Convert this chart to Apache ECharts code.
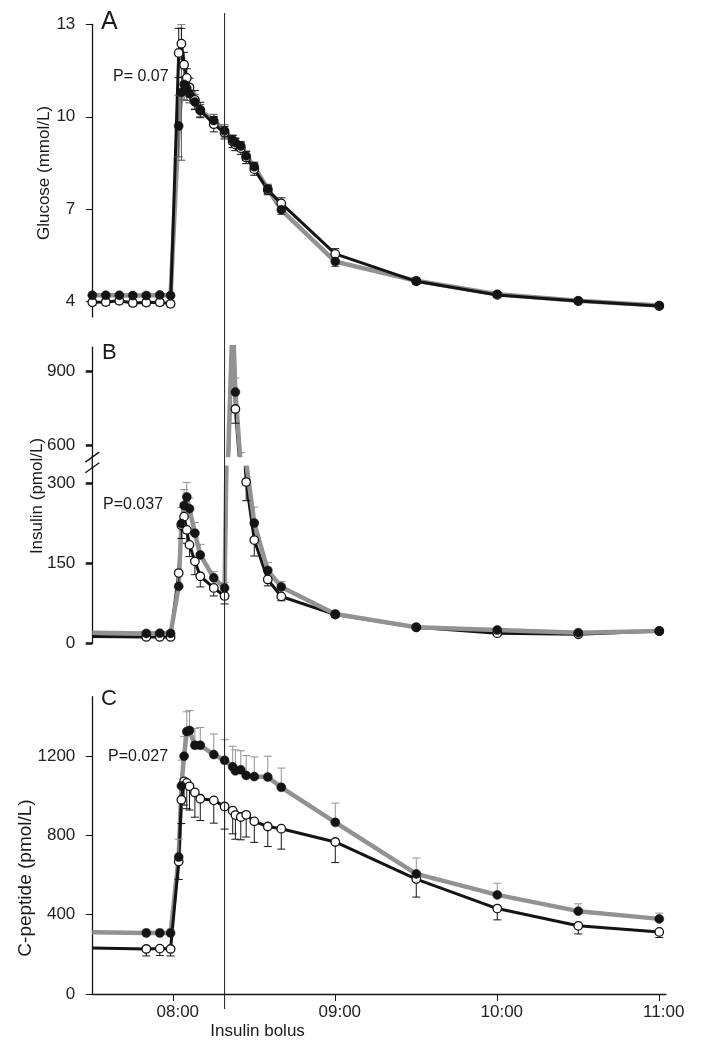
<!DOCTYPE html>
<html><head><meta charset="utf-8">
<script src="https://cdn.jsdelivr.net/npm/echarts@6.0.0/dist/echarts.min.js"></script>
<style>html,body{margin:0;padding:0;background:#fff}#c{width:705px;height:1043px}</style>
</head><body><div id="c"></div>
<script>
// ---------- DATA ----------
// time in minutes relative to 08:00
const TIME_A = [-30,-25,-20,-15,-10,-5,-1,2,3,4,5,6,8,10,15,19,22,23,25,27,30,35,40,60,90,120,150,180];
const GLU_FILLED    = [4.21,4.21,4.21,4.20,4.20,4.22,4.20,9.70,10.79,11.05,10.93,10.75,10.48,10.20,9.88,9.54,9.25,9.16,9.05,8.73,8.38,7.66,6.98,5.30,4.68,4.24,4.03,3.88];
const GLU_FILLED_SE = [0.05,0.05,0.05,0.05,0.05,0.05,0.05,1.00,2.20,0.50,0.40,0.30,0.25,0.20,0.20,0.20,0.15,0.15,0.15,0.15,0.15,0.15,0.15,0.16,0.10,0.08,0.06,0.05];
const GLU_OPEN      = [3.98,3.99,4.03,3.96,3.97,3.98,3.93,12.07,12.37,11.69,11.26,10.95,10.55,10.22,9.76,9.48,9.20,9.10,8.98,8.68,8.30,7.62,7.19,5.55,4.66,4.22,4.02,3.86];
const GLU_OPEN_SE   = [0.10,0.10,0.10,0.10,0.10,0.10,0.10,0.80,0.50,0.40,0.30,0.30,0.30,0.25,0.25,0.20,0.20,0.20,0.20,0.20,0.20,0.15,0.18,0.17,0.08,0.08,0.06,0.05];

const TIME_BC = [-30,-10,-5,-1,2,3,4,5,6,8,10,15,19,22,23,25,27,30,35,40,60,90,120,150,180];
const UNSAMPLED_TIMES = [-30]; // line starts here, no measurement marker
const INS_FILLED    = [20,18.6,19,18.6,107,225,259,275,253,207,166,123,104,1130,817,520,340,226,137,106,55,30,25,20,23];
const INS_FILLED_SE = [0,3,3,3,30,30,30,27,20,20,20,12,10,0,57,50,40,30,15,10,5,3,3,3,3];
const INS_OPEN      = [13,12,12,12,132,222,238,213,185,154,126,104,89,1060,748,470,303,194,120,88,54,30,19,17,23];
const INS_OPEN_SE   = [0,3,3,3,25,25,25,25,22,25,20,15,15,0,58,50,35,30,12,8,5,3,3,3,3];

const CPEP_FILLED    = [311,308,308,308,691,1050,1200,1324,1330,1255,1255,1208,1179,1146,1126,1131,1103,1097,1095,1043,866,606,500,418,379];
const CPEP_FILLED_SE = [0,19,19,19,90,130,100,100,100,85,90,104,104,104,106,96,100,99,105,97,97,80,59,37,29];
const CPEP_OPEN      = [232,227,229,227,668,980,1073,1065,1048,1017,985,977,946,925,903,893,904,871,845,834,767,580,431,344,313];
const CPEP_OPEN_SE   = [0,35,35,35,90,120,120,130,120,125,110,115,114,117,122,115,112,106,101,103,104,91,57,41,28];

const X_TICKS = [0,60,120,180];
const X_TICK_LABELS = ['08:00','09:00','10:00','11:00'];
const BOLUS_TIME = 19;
const BOLUS_LABEL = 'Insulin bolus';
const Y_TICKS_A = [4,7,10,13];
const Y_TICKS_B_HIGH = [600,900];
const Y_TICKS_B_LOW = [0,150,300];
const Y_TICKS_C = [0,400,800,1200];
const P_TEXTS = ['P= 0.07','P=0.037','P=0.027'];
const PANEL_LETTERS = ['A','B','C'];
const Y_TITLES = ['Glucose (mmol/L)','Insulin (pmol/L)','C-peptide (pmol/L)'];

// ---------- STYLE ----------
const FONT = 'Liberation Sans, Arial, sans-serif';
const GRAY = '#929292', BLACK = '#141414';
const X_MIN = -30, X_MAX = 182.5;

const chart = echarts.init(document.getElementById('c'), null, {renderer:'canvas'});

const grids = [
  {left:92.3, right:39, top:24.3, height:292.8},   // A
  {left:92.3, right:39, top:347.2, height:107.9},  // B upper
  {left:92.3, right:39, top:467.7, height:175.6},  // B lower
  {left:92.3, right:39, top:696.7, height:297.3}   // C
];

function xAxis(g, show) {
  const ax = {type:'value', gridIndex:g, min:X_MIN, max:X_MAX, splitLine:{show:false}};
  if (!show) { ax.show = false; return ax; }
  return Object.assign(ax, {
    axisLine:{show:true, onZero:false, lineStyle:{color:BLACK, width:1.3}},
    axisTick:{show:true, length:7, customValues:X_TICKS, lineStyle:{color:BLACK, width:1}},
    axisLabel:{customValues:X_TICKS, margin:10, padding:[0,0,0,9], fontSize:17, color:'#222', fontFamily:FONT,
      formatter: v => X_TICK_LABELS[X_TICKS.indexOf(v)] || ''}
  });
}
function yAxis(g, min, max, ticks, tickW) {
  return {type:'value', gridIndex:g, min, max, splitLine:{show:false},
    axisLine:{show:true, onZero:false, lineStyle:{color:BLACK, width:1.3}},
    axisTick:{show:true, length:6.5, customValues:ticks, lineStyle:{color:BLACK, width:tickW}},
    axisLabel:{customValues:ticks, margin:17, fontSize:17, color:'#222', fontFamily:FONT, formatter: v => String(v)}};
}

function errRender(dir, color) {
  return function(params, api) {
    const t = api.value(0), v = api.value(1), se = api.value(2);
    if (!(se > 0)) return;
    const cs = params.coordSys;
    const p0 = api.coord([t, v]);
    const x = p0[0];
    const top = cs.y, bot = cs.y + cs.height;
    const children = [];
    const dirs = dir === 0 ? [1, -1] : [dir];
    dirs.forEach(d => {
      const y1 = api.coord([t, v + d * se])[1];
      const ya = Math.max(top, Math.min(bot, p0[1]));
      const yb = Math.max(top, Math.min(bot, y1));
      if (ya !== yb) children.push({type:'line', shape:{x1:x, y1:ya, x2:x, y2:yb}, style:{stroke:color, lineWidth:1}});
      if (y1 >= top && y1 <= bot) children.push({type:'line', shape:{x1:x-4, y1:y1, x2:x+4, y2:y1}, style:{stroke:color, lineWidth:1}});
    });
    return {type:'group', children};
  };
}

function panelSeries(ai, t, fv, fse, ov, ose, sym, grayOnTop) {
  const zip = (vals) => t.map((x, i) => [x, vals[i]]);
  const zip3 = (vals, se) => t.map((x, i) => [x, vals[i], se[i]]);
  const sampled = (vals) => t.map((x, i) => [x, vals[i]]).filter(p => UNSAMPLED_TIMES.indexOf(p[0]) < 0 || sym);
  const common = {xAxisIndex:ai, yAxisIndex:ai, silent:true, animation:false};
  return [
    Object.assign({type:'line', data:zip(fv), showSymbol:false, symbol:'none', lineStyle:{color:GRAY, width:4.5}, z:grayOnTop ? 3 : 2}, common),
    Object.assign({type:'line', data:zip(ov), showSymbol:false, symbol:'none', lineStyle:{color:BLACK, width:3}, z:grayOnTop ? 2 : 3}, common),
    Object.assign({type:'custom', data:zip3(fv, fse), renderItem:errRender(sym ? 0 : 1, sym ? '#555' : GRAY), encode:{x:0, y:1}, z:4, clip:true}, common),
    Object.assign({type:'custom', data:zip3(ov, ose), renderItem:errRender(sym ? 0 : -1, BLACK), encode:{x:0, y:1}, z:4, clip:true}, common),
    Object.assign({type:'scatter', data:sampled(ov), symbol:'circle', symbolSize:8.5, itemStyle:{color:'#ffffff', borderColor:BLACK, borderWidth:1.3, opacity:1}, z:5, clip:true}, common),
    Object.assign({type:'scatter', data:sampled(fv), symbol:'circle', symbolSize:9, itemStyle:{color:BLACK, borderColor:BLACK, borderWidth:0.5, opacity:1}, z:6, clip:true}, common)
  ];
}

const option = {
  backgroundColor:'#fff',
  animation:false,
  grid: grids,
  xAxis: [xAxis(0,false), xAxis(1,false), xAxis(2,false), xAxis(3,true)],
  yAxis: [
    yAxis(0, 3.5, 13, Y_TICKS_A, 1),
    yAxis(1, 560, 1000, Y_TICKS_B_HIGH, 2.5),
    yAxis(2, 0, 330, Y_TICKS_B_LOW, 2.5),
    yAxis(3, 0, 1500, Y_TICKS_C, 1)
  ],
  series: [].concat(
    panelSeries(0, TIME_A, GLU_FILLED, GLU_FILLED_SE, GLU_OPEN, GLU_OPEN_SE, true, false),
    panelSeries(1, TIME_BC, INS_FILLED, INS_FILLED_SE, INS_OPEN, INS_OPEN_SE, false, true),
    panelSeries(2, TIME_BC, INS_FILLED, INS_FILLED_SE, INS_OPEN, INS_OPEN_SE, false, true),
    panelSeries(3, TIME_BC, CPEP_FILLED, CPEP_FILLED_SE, CPEP_OPEN, CPEP_OPEN_SE, false, false)
  )
};
chart.setOption(option);

// ---------- annotations ----------
const bx = chart.convertToPixel({xAxisIndex:3}, BOLUS_TIME);
const ax = chart.convertToPixel({xAxisIndex:3}, X_MIN);
const yUpBot = chart.convertToPixel({yAxisIndex:1}, 560);
const yLowTop = chart.convertToPixel({yAxisIndex:2}, 330);
const txt = (x, y, text, size, align, extra) => Object.assign({type:'text', x, y, silent:true,
  style:{text, fontSize:size, fontFamily:FONT, fill:'#1a1a1a', textAlign:align || 'left', textVerticalAlign:'middle'}}, extra || {});

const graphic = [
  {type:'line', silent:true, z:10, shape:{x1:bx, y1:13, x2:bx, y2:1009}, style:{stroke:'#222', lineWidth:1}},
  {type:'line', silent:true, shape:{x1:ax, y1:yUpBot, x2:ax, y2:yLowTop}, style:{stroke:BLACK, lineWidth:1.3}},
  {type:'line', silent:true, shape:{x1:ax-7, y1:yUpBot+7, x2:ax+7, y2:yUpBot-3}, style:{stroke:BLACK, lineWidth:1.4}},
  {type:'line', silent:true, shape:{x1:ax-7, y1:yLowTop+5, x2:ax+7, y2:yLowTop-5}, style:{stroke:BLACK, lineWidth:1.4}},
  txt(101, 22, PANEL_LETTERS[0], 25),
  txt(102, 353, PANEL_LETTERS[1], 22),
  txt(101, 699, PANEL_LETTERS[2], 22),
  txt(113, 77, P_TEXTS[0], 16),
  txt(103, 505, P_TEXTS[1], 16),
  txt(108, 757, P_TEXTS[2], 16),
  txt(44, 173, Y_TITLES[0], 17, 'center', {rotation:Math.PI/2}),
  txt(37, 496, Y_TITLES[1], 17, 'center', {rotation:Math.PI/2}),
  txt(26, 878, Y_TITLES[2], 19, 'center', {rotation:Math.PI/2}),
  txt(bx + 33, 1031, BOLUS_LABEL, 17, 'center')
];
chart.setOption({graphic});
</script>
</body></html>
